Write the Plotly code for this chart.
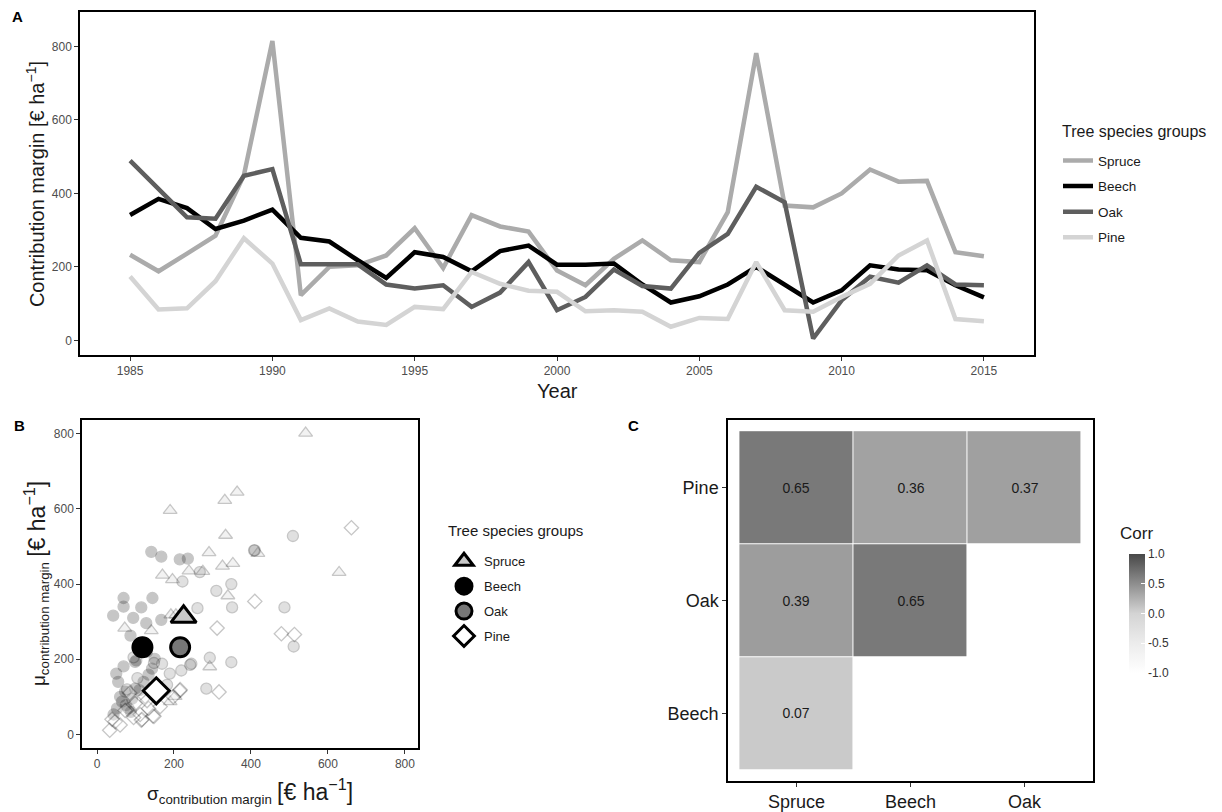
import plotly.graph_objects as go

# ---------------- Panel A data ----------------
years = [1985, 1986, 1987, 1988, 1989, 1990, 1991, 1992, 1993, 1994, 1995,
         1996, 1997, 1998, 1999, 2000, 2001, 2002, 2003, 2004, 2005, 2006,
         2007, 2008, 2009, 2010, 2011, 2012, 2013, 2014, 2015]
spruce_cm = [233, 188, 236, 285, 450, 815, 123, 200, 204, 231, 305, 197, 341, 310,
             296, 190, 150, 222, 272, 218, 213, 349, 782, 367, 362, 400, 465, 432,
             434, 240, 229]
beech_cm = [341, 385, 360, 303, 326, 356, 279, 269, 218, 170, 240, 227, 188, 243,
            258, 206, 206, 209, 152, 103, 120, 152, 200, 150, 103, 136, 204, 193,
            191, 150, 117]
oak_cm = [489, 412, 335, 331, 448, 466, 207, 207, 207, 152, 141, 150, 91, 130,
          213, 82, 118, 193, 148, 141, 238, 290, 418, 376, 5, 109, 173, 157, 204,
          152, 150]
pine_cm = [174, 84, 87, 161, 278, 209, 55, 87, 51, 42, 91, 85, 186, 154, 135, 132,
           79, 82, 78, 37, 61, 58, 213, 82, 78, 118, 154, 231, 272, 58, 52]

species = ["Spruce", "Beech", "Oak", "Pine"]
line_colors = ["#ababab", "#000000", "#5e5e5e", "#d4d4d4"]

# ---------------- Panel B data ----------------
spruce_sd = [542, 364, 332, 190, 334, 291, 418, 353, 326, 170, 196, 239, 275, 629, 340,
             72, 141, 192, 205, 293, 190, 203]
spruce_mu = [802, 645, 623, 596, 530, 484, 482, 455, 448, 424, 412, 435, 434, 431, 369,
             283, 276, 318, 318, 180, 87, 101]
beech_sd = [141, 167, 215, 236, 42, 69, 69, 144, 115, 94, 128, 167, 87, 69, 50, 55, 102,
            99, 150, 143, 73, 91, 65, 52, 82, 43, 99, 121, 134, 60, 75, 88, 110]
beech_mu = [486, 473, 466, 468, 316, 363, 340, 363, 338, 310, 296, 305, 263, 181, 162,
            140, 197, 193, 201, 175, 114, 95, 87, 69, 69, 53, 122, 140, 159, 100, 78,
            60, 118]
oak_sd = [509, 410, 487, 511, 349, 310, 351, 261, 349, 293, 284, 222, 245, 219, 189, 267,
          408, 242, 169, 182, 118, 95, 130, 105, 78, 148]
oak_mu = [528, 490, 338, 234, 400, 382, 338, 336, 192, 204, 122, 407, 188, 170, 162,
          432, 490, 185, 188, 132, 245, 205, 220, 150, 120, 190]
pine_sd = [661, 410, 312, 479, 513, 317, 215, 198, 145, 115, 33, 216, 148, 117, 39, 99,
           73, 47, 112, 134, 125, 164, 85, 60, 95, 130]
pine_mu = [550, 354, 283, 268, 266, 113, 116, 100, 49, 38, 11, 119, 48, 40, 40, 82,
           64, 34, 53, 69, 101, 74, 110, 25, 45, 90]
mean_sd = [225, 118, 216, 154]
mean_mu = [313, 232, 232, 116]

# ---------------- Panel C data ----------------
corr_x = ["Spruce", "Beech", "Oak"]
corr_y = ["Beech", "Oak", "Pine"]
corr_z = [[0.07, None, None],
          [0.39, 0.65, None],
          [0.65, 0.36, 0.37]]

W, H = 1222, 812
def px(x):
    return x / W
def py(y):
    return 1 - y / H

fig = go.Figure()

# Panel A lines
for name, vals, col in zip(species, [spruce_cm, beech_cm, oak_cm, pine_cm], line_colors):
    fig.add_trace(go.Scatter(x=years, y=vals, mode="lines", name=name,
                             line=dict(color=col, width=4.5), legendgroup="A" + name,
                             xaxis="x", yaxis="y", legend="legend"))

# Panel B scatter
small_specs = [
    (spruce_sd, spruce_mu, "triangle-up", "#c8c8c8", 12),
    (beech_sd, beech_mu, "circle", "#000000", 11),
    (oak_sd, oak_mu, "circle", "#777777", 11),
    (pine_sd, pine_mu, "diamond", "#ffffff", 11),
]
for (sx, sy, sym, fill, sz) in small_specs:
    fig.add_trace(go.Scatter(x=sx, y=sy, mode="markers", showlegend=False,
                             marker=dict(symbol=sym, color=fill, size=sz, opacity=0.22,
                                         line=dict(color="#000000", width=1.3)),
                             xaxis="x2", yaxis="y2"))

big_fill = ["#c8c8c8", "#000000", "#777777", "#ffffff"]
big_sym = ["triangle-up", "circle", "circle", "diamond"]
big_size = [22, 19, 19, 20]
for i, name in enumerate(species):
    fig.add_trace(go.Scatter(x=[mean_sd[i]], y=[mean_mu[i]], mode="markers", name=name,
                             legendgroup="B" + name,
                             marker=dict(symbol=big_sym[i], color=big_fill[i], size=big_size[i],
                                         line=dict(color="#000000", width=3)),
                             xaxis="x2", yaxis="y2", legend="legend2"))

# Panel C heatmap
fig.add_trace(go.Heatmap(
    x=corr_x, y=corr_y, z=corr_z, zmin=-1, zmax=1,
    colorscale=[[0.0, "#ffffff"], [0.25, "#ececec"], [0.5, "#d4d4d4"],
                [0.75, "#8e8e8e"], [1.0, "#484848"]],
    xgap=1, ygap=1, texttemplate="%{z:.2f}", hoverongaps=False,
    textfont=dict(size=14, color="#1a1a1a", family="Liberation Sans, Arial"),
    xaxis="x3", yaxis="y3",
    colorbar=dict(x=px(1119), xanchor="left", y=py(616.5), yanchor="middle",
                  len=139, lenmode="pixels", ypad=10, thickness=16, outlinewidth=0,
                  tickvals=[-1, -0.5, 0, 0.5, 1], ticktext=["-1.0", "-0.5", "0.0", "0.5", "1.0"],
                  ticks="inside", tickcolor="white", ticklen=4,
                  tickfont=dict(size=12, color="#333333"))))

tickfont = dict(size=12, color="#4d4d4d", family="Liberation Sans, Arial")
frame = dict(showline=True, mirror=True, linecolor="#000000", linewidth=1.5,
             showgrid=False, zeroline=False, ticks="outside", ticklen=4,
             tickcolor="#333333", tickwidth=1, tickfont=tickfont)

fig.update_layout(
    width=W, height=H, margin=dict(l=0, r=0, t=0, b=0),
    paper_bgcolor="white", plot_bgcolor="white",
    font=dict(family="Liberation Sans, Arial", color="#000000"),
    xaxis=dict(domain=[px(80), px(1034)], range=[1983.24, 2016.76],
               tickvals=[1985, 1990, 1995, 2000, 2005, 2010, 2015], anchor="y", **frame),
    yaxis=dict(domain=[py(357), py(12)], range=[-40.6, 894],
               tickvals=[0, 200, 400, 600, 800], anchor="x", **frame),
    xaxis2=dict(domain=[px(82), px(418)], range=[-39, 834],
                tickvals=[0, 200, 400, 600, 800], anchor="y2", **frame),
    yaxis2=dict(domain=[py(752), py(422)], range=[-37, 837],
                tickvals=[0, 200, 400, 600, 800], anchor="x2", **frame),
    xaxis3=dict(domain=[px(728), px(1093)], range=[-0.6, 2.6], type="category",
                categoryorder="array", categoryarray=corr_x, anchor="y3",
                **{**frame, "tickfont": dict(size=18, color="#1a1a1a")}),
    yaxis3=dict(domain=[py(785), py(422)], range=[-0.6, 2.6], type="category",
                categoryorder="array", categoryarray=corr_y, anchor="x3",
                **{**frame, "tickfont": dict(size=18, color="#1a1a1a")}),
    legend=dict(x=px(1058), y=py(146), xanchor="left", yanchor="top",
                font=dict(size=13.5, color="#1a1a1a"), itemwidth=30, tracegroupgap=5,
                bgcolor="rgba(0,0,0,0)"),
    legend2=dict(x=px(444), y=py(549), xanchor="left", yanchor="top",
                 font=dict(size=13, color="#1a1a1a"), itemsizing="trace", itemwidth=30,
                 tracegroupgap=5, bgcolor="rgba(0,0,0,0)"),
    showlegend=True,
)

ann = []
ann.append(dict(text="<b>A</b>", x=px(10), y=py(17), xref="paper", yref="paper",
                xanchor="left", yanchor="middle", showarrow=False, font=dict(size=15)))
ann.append(dict(text="<b>B</b>", x=px(12), y=py(428), xref="paper", yref="paper",
                xanchor="left", yanchor="middle", showarrow=False, font=dict(size=15)))
ann.append(dict(text="<b>C</b>", x=px(626), y=py(428), xref="paper", yref="paper",
                xanchor="left", yanchor="middle", showarrow=False, font=dict(size=15)))
ann.append(dict(text="Tree species groups", x=px(1060), y=py(132), xref="paper", yref="paper",
                xanchor="left", yanchor="middle", showarrow=False,
                font=dict(size=16, color="#1a1a1a")))
ann.append(dict(text="Tree species groups", x=px(446), y=py(533), xref="paper", yref="paper",
                xanchor="left", yanchor="middle", showarrow=False,
                font=dict(size=15, color="#1a1a1a")))
ann.append(dict(text="Corr", x=px(1118), y=py(536), xref="paper", yref="paper",
                xanchor="left", yanchor="middle", showarrow=False,
                font=dict(size=17, color="#1a1a1a")))
ann.append(dict(text="Contribution margin [€ ha<sup>−1</sup>]", x=px(35), y=py(185),
                xref="paper", yref="paper", textangle=-90, showarrow=False,
                xanchor="center", yanchor="middle", font=dict(size=20, color="#1a1a1a")))
ann.append(dict(text="Year", x=px(557), y=py(393), xref="paper", yref="paper",
                showarrow=False, xanchor="center", yanchor="middle",
                font=dict(size=20, color="#1a1a1a")))
ann.append(dict(text="σ<sub>contribution margin</sub> <span style='font-size:23px'>[€ ha<sup>−1</sup>]</span>",
                x=px(250), y=py(795), xref="paper", yref="paper",
                showarrow=False, xanchor="center", yanchor="middle",
                font=dict(size=19, color="#1a1a1a")))
ann.append(dict(text="μ<sub>contribution margin</sub> <span style='font-size:23px'>[€ ha<sup>−1</sup>]</span>",
                x=px(36), y=py(587), xref="paper", yref="paper", textangle=-90,
                showarrow=False, xanchor="center", yanchor="middle",
                font=dict(size=19, color="#1a1a1a")))
fig.update_layout(annotations=ann)

fig.write_html("out.html")
